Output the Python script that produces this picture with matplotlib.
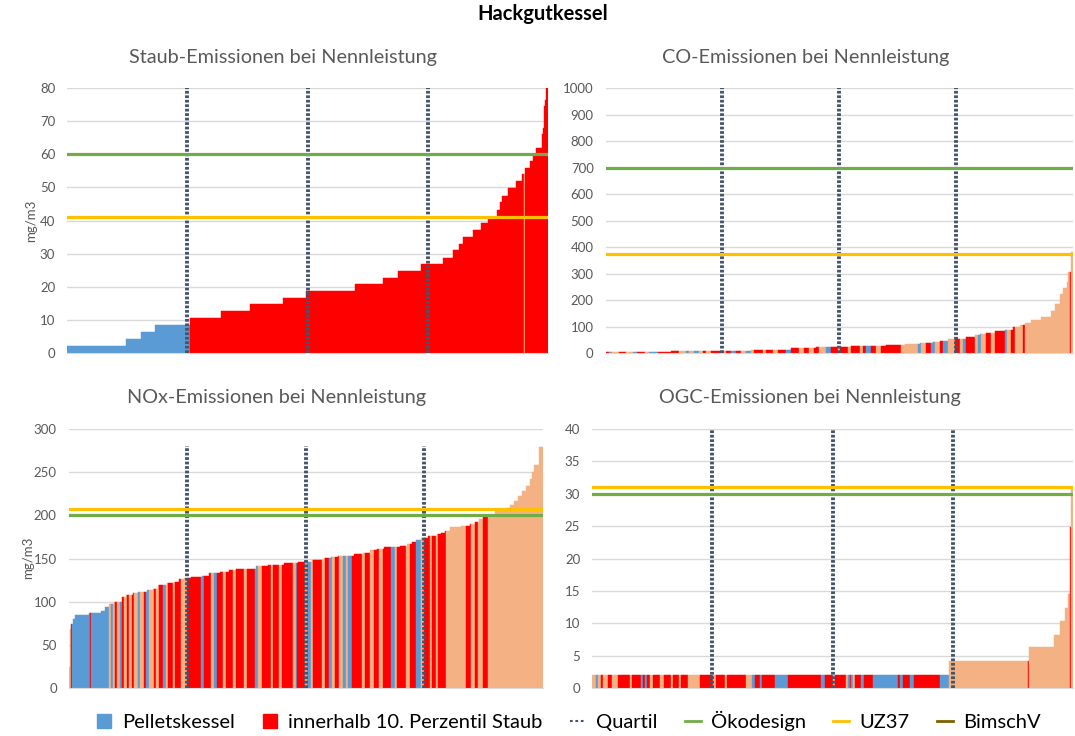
import numpy as np
import matplotlib
matplotlib.use("Agg")
import matplotlib.pyplot as plt
from matplotlib.lines import Line2D

plt.rcParams['font.family'] = ['Lato', 'DejaVu Sans']

# --- data: sorted emissions as steps (value, number of boilers) ---
# colour runs: b = Pelletskessel, r = innerhalb 10. Perzentil Staub, s = other
staub_vals = [2.2, 4.3, 6.3, 8.5, 10.5, 12.6, 14.7, 16.7, 18.8, 20.8,
              22.6, 24.7, 26.8, 28.8, 31, 33, 35, 37.2, 39.2, 41.2,
              43.3, 45.5, 47.5, 49.7, 51.8, 54, 56, 58, 60, 62,
              66, 68, 74.5, 76.5, 80]
staub_cnt = [59, 15, 14, 35, 31, 29, 33, 23, 48, 28,
             15, 23, 22, 10, 6, 4, 10, 8, 7, 9,
             3, 2, 6, 8, 6, 3, 5, 3, 3, 6,
             1, 1, 1, 1, 2]
staub_col = "brsr"
staub_col_cnt = [123, 333, 1, 22]

co_vals = [4, 5, 7.5, 8.5, 12, 17, 21, 23.5, 26, 31,
           33, 38, 42, 47, 51, 53, 60, 67, 70, 75,
           83, 88, 97, 105, 112, 126, 136, 158, 186, 224,
           245, 268, 306, 381]
co_cnt = [61, 5, 50, 30, 40, 25, 22, 13, 35, 19,
          15, 13, 7, 8, 7, 11, 9, 5, 6, 9,
          10, 8, 7, 5, 6, 10, 10, 4, 5, 3,
          4, 1, 3, 2]
co_col = ("rbsrsbrsbr" "sbsbsrsrsr" "brsbsrsrsr" "brsrsrsbr"
          "srsrsrbrsr" "sbsrbsrbsr" "sbrsbsrsrb" "srsrsrs")
co_col_cnt = [4, 3, 7, 7, 7, 4, 8, 4, 9, 21,
              7, 3, 5, 5, 4, 3, 5, 10, 5, 5,
              5, 5, 5, 5, 3, 9, 3, 7, 5, 8,
              5, 8, 5, 5, 5, 5, 7, 5, 7,
              2, 8, 3, 9, 3, 3, 5, 5, 5, 20,
              17, 3, 5, 5, 4, 5, 3, 5, 7, 5,
              3, 3, 9, 3, 3, 5, 5, 4, 10, 2,
              4, 4, 8, 2, 45, 1, 2]

nox_vals = [24, 68, 74, 80, 85, 87, 89, 94, 97, 100,
            105, 107.5, 110, 111, 114, 115, 119.5, 122, 123, 126,
            127, 129, 130, 133, 134, 136.5, 138, 141, 142, 144.5,
            146, 148.5, 151, 152, 153, 155, 156.5, 159.5, 161, 163.5,
            164.7, 167, 169, 172, 174, 176, 178, 180, 182, 186,
            188, 190, 192.5, 195.5, 198, 199, 205, 207, 209, 212,
            217, 222.6, 228.5, 234, 242, 250, 258.6, 278.7]
nox_cnt = [1, 1, 2, 2, 14, 12, 4, 4, 5, 8,
           4, 7, 5, 9, 7, 5, 9, 7, 5, 5,
           7, 11, 7, 11, 9, 7, 20, 12, 16, 14,
           14, 12, 7, 7, 16, 9, 7, 7, 7, 16,
           7, 5, 4, 5, 7, 9, 4, 4, 5, 11,
           9, 5, 4, 4, 7, 5, 7, 4, 4, 4,
           4, 4, 4, 4, 2, 2, 5, 4]
nox_col = ("srbrb"
           "sbsrsbrsrs" "rsbsrbsrsr" "bsrsrsrbrs" "brsrsrsrbs" "rsrsrsbr"
           "sbsrsrbsrs" "bsbrsrsrsr" "bsrsrbsrsr" "srsrsrsrs")
nox_col_cnt = [2, 1, 18, 1, 18,
               2, 2, 2, 2, 3, 2, 2, 3, 2, 3,
               2, 4, 2, 4, 2, 4, 5, 2, 3, 4,
               3, 2, 5, 2, 6, 6, 14, 3, 7, 3,
               3, 6, 3, 7, 3, 8, 3, 8, 3, 4,
               9, 2, 6, 3, 11, 3, 1, 8,
               2, 4, 2, 9, 3, 4, 3, 3, 4, 4,
               3, 2, 4, 10, 3, 5, 4, 5, 4, 8,
               4, 2, 9, 4, 6, 5, 3, 6, 2, 4,
               2, 8, 20, 5, 4, 3, 5, 5, 52]

ogc_vals = [2, 4.2, 6.3, 8.2, 10.4, 12.3, 14.5, 24.8, 30.7]
ogc_cnt = [357, 80, 25, 6, 5, 3, 2, 1, 2]
ogc_col = ("sbsrsrsrsr" "brbrsrsrsr" "srsrsrsrsb" "rbrbrbr"
           "srsbrbsrbr" "brbrbrbsrs" "rs")
ogc_col_cnt = [4, 2, 3, 2, 5, 4, 6, 12, 2, 9,
               2, 2, 2, 3, 3, 7, 4, 7, 2, 6,
               2, 7, 12, 13, 3, 9, 2, 19, 6, 3,
               5, 2, 13, 13, 33, 4, 8,
               2, 11, 2, 2, 1, 2, 2, 6, 3, 9,
               25, 2, 3, 7, 4, 26, 9, 79, 1, 41,
               1, 2]

# limit values (Ökodesign, UZ37) per chart
oeko = {'staub': 60, 'co': 700, 'nox': 200, 'ogc': 30}
uz37 = {'staub': 41.2, 'co': 372, 'nox': 207, 'ogc': 31}
quart_top = {'staub': 80, 'co': 1000, 'nox': 280, 'ogc': 40}

COLORS = {'b': '#5B9BD5', 'r': '#FF0000', 's': '#F4B183'}
GREEN = '#70AD47'
GOLD = '#FFC000'
BROWN = '#7F6000'
QCOL = '#44546A'
TXT = '#595959'


def draw(ax, key, vals, cnt, col, col_cnt, ymax, ystep):
    h = np.repeat(vals, cnt)
    codes = np.repeat(list(col), col_cnt)
    n = len(h)
    if len(codes) < n:
        codes = np.concatenate([codes, [codes[-1]] * (n - len(codes))])
    c = [COLORS[k] for k in codes[:n]]
    x = np.arange(n)
    ax.bar(x, h, width=1.0, align='edge', color=c, edgecolor=c,
           linewidth=0.3, zorder=2)
    for q in (0.25, 0.5, 0.75):
        ax.plot([n * q, n * q], [0, quart_top[key]], color=QCOL,
                lw=2.8, ls=(0, (0.7, 0.45)), zorder=3)
    ax.axhline(oeko[key], color=GREEN, lw=2.3, zorder=4)
    ax.axhline(uz37[key], color=GOLD, lw=2.3, zorder=4)
    ax.set_xlim(0, n)
    ax.set_ylim(0, ymax)
    ax.set_yticks(np.arange(0, ymax + ystep / 2, ystep))
    ax.set_xticks([])
    ax.yaxis.grid(True, color='#D9D9D9', lw=1.0, zorder=0)
    ax.set_axisbelow(True)
    for s in ('top', 'right', 'left'):
        ax.spines[s].set_visible(False)
    ax.spines['bottom'].set_color('#D9D9D9')
    ax.tick_params(axis='y', length=0, pad=8.5, labelsize=9.5,
                   labelcolor=TXT)


W, H = 1075, 736
fig = plt.figure(figsize=(W / 100, H / 100), dpi=100)


def box(l, r, t, b):
    return [l / W, 1 - b / H, (r - l) / W, (b - t) / H]


ax1 = fig.add_axes(box(67, 548, 88, 353))
ax2 = fig.add_axes(box(605.5, 1073, 88, 353))
ax3 = fig.add_axes(box(68.6, 543, 429, 688))
ax4 = fig.add_axes(box(592, 1073, 429, 688))

draw(ax1, 'staub', staub_vals, staub_cnt, staub_col, staub_col_cnt, 80, 10)
draw(ax2, 'co', co_vals, co_cnt, co_col, co_col_cnt, 1000, 100)
draw(ax3, 'nox', nox_vals, nox_cnt, nox_col, nox_col_cnt, 300, 50)
draw(ax4, 'ogc', ogc_vals, ogc_cnt, ogc_col, ogc_col_cnt, 40, 5)

fig.text(543 / W, 1 - 14 / H, "Hackgutkessel", ha='center', va='center',
         fontsize=14.5, fontweight='bold', color='black')
fig.text(283 / W, 1 - 57 / H, "Staub-Emissionen bei Nennleistung",
         ha='center', va='center', fontsize=14.3, color=TXT)
fig.text(806 / W, 1 - 57 / H, "CO-Emissionen bei Nennleistung",
         ha='center', va='center', fontsize=14.3, color=TXT)
fig.text(277 / W, 1 - 398 / H, "NOx-Emissionen bei Nennleistung",
         ha='center', va='center', fontsize=14.3, color=TXT)
fig.text(810 / W, 1 - 398 / H, "OGC-Emissionen bei Nennleistung",
         ha='center', va='center', fontsize=14.3, color=TXT)
fig.text(31 / W, 1 - 221 / H, "mg/m3", rotation=90, ha='center',
         va='center', fontsize=9.5, color=TXT)
fig.text(28 / W, 1 - 558 / H, "mg/m3", rotation=90, ha='center',
         va='center', fontsize=9.5, color=TXT)

handles = [
    Line2D([], [], marker='s', ls='none', color=COLORS['b'], markersize=10),
    Line2D([], [], marker='s', ls='none', color=COLORS['r'], markersize=10),
    Line2D([], [], color=QCOL, lw=1.5, ls=(0, (1.3, 1.3))),
    Line2D([], [], color=GREEN, lw=2),
    Line2D([], [], color=GOLD, lw=2),
    Line2D([], [], color=BROWN, lw=2),
]
labels = ['Pelletskessel', 'innerhalb 10. Perzentil Staub', 'Quartil',
          'Ökodesign', 'UZ37', 'BimschV']
fig.legend(handles, labels, loc='center', bbox_to_anchor=(568 / W, 1 - 721 / H),
           ncol=6, frameon=False, fontsize=14.5, handlelength=0.8,
           handletextpad=0.5, columnspacing=1.35, labelcolor='black')

fig.savefig('out.png', dpi=100)
